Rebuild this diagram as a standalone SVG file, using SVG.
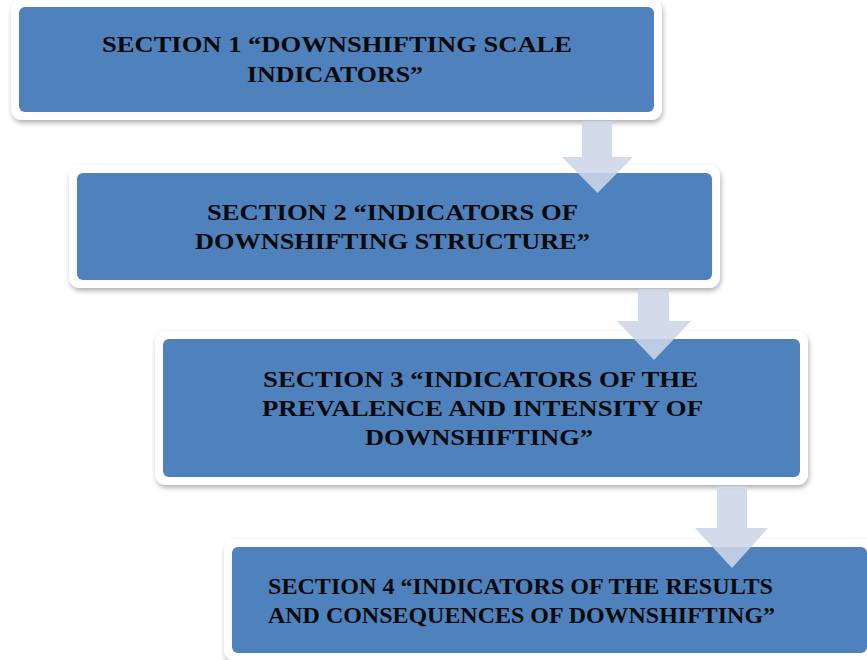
<svg xmlns="http://www.w3.org/2000/svg" width="867" height="660" viewBox="0 0 867 660">
  <defs>
    <filter id="shadow" x="-5%" y="-20%" width="110%" height="140%">
      <feDropShadow dx="1" dy="3" stdDeviation="2.5" flood-color="#000" flood-opacity="0.3"/>
    </filter>
  </defs>
  <style>
    .frame { fill: #ffffff; filter: url(#shadow); }
    .body { fill: #4f81bd; }
    .label { font-family: "Liberation Serif", "Times New Roman", serif; font-weight: bold; font-size: 24px; fill: #0a0a0a; text-anchor: middle; }
    .arrow { fill: #cdd6e8; fill-opacity: 0.88; }
  </style>
  <rect width="867" height="660" fill="#ffffff"/>

  <g id="section1">
    <rect class="frame" x="11" y="-1" width="651" height="121" rx="11"/>
    <rect class="body" x="19" y="7" width="635" height="105" rx="6"/>
    <text class="label" x="337" y="52" textLength="470" lengthAdjust="spacingAndGlyphs">SECTION 1 “DOWNSHIFTING SCALE</text>
    <text class="label" x="335" y="82" textLength="176" lengthAdjust="spacingAndGlyphs">INDICATORS”</text>
  </g>

  <g id="section2">
    <rect class="frame" x="69" y="165" width="651" height="123" rx="11"/>
    <rect class="body" x="77" y="173" width="635" height="107" rx="6"/>
    <text class="label" x="392.5" y="220" textLength="371" lengthAdjust="spacingAndGlyphs">SECTION 2 “INDICATORS OF</text>
    <text class="label" x="392.5" y="249" textLength="395" lengthAdjust="spacingAndGlyphs">DOWNSHIFTING STRUCTURE”</text>
  </g>

  <g id="section3">
    <rect class="frame" x="155" y="331" width="653" height="154" rx="11"/>
    <rect class="body" x="163" y="339" width="637" height="138" rx="6"/>
    <text class="label" x="480.5" y="387" textLength="435" lengthAdjust="spacingAndGlyphs">SECTION 3 “INDICATORS OF THE</text>
    <text class="label" x="482.5" y="416" textLength="441" lengthAdjust="spacingAndGlyphs">PREVALENCE AND INTENSITY OF</text>
    <text class="label" x="479" y="445" textLength="228" lengthAdjust="spacingAndGlyphs">DOWNSHIFTING”</text>
  </g>

  <g id="section4">
    <rect class="frame" x="224" y="539" width="651" height="122" rx="11"/>
    <rect class="body" x="232" y="547" width="635" height="106" rx="6"/>
    <text class="label" x="520.5" y="594" textLength="505" lengthAdjust="spacingAndGlyphs">SECTION 4 “INDICATORS OF THE RESULTS</text>
    <text class="label" x="521.5" y="623" textLength="507" lengthAdjust="spacingAndGlyphs">AND CONSEQUENCES OF DOWNSHIFTING”</text>
  </g>

  <g id="connectors">
    <polygon class="arrow" points="582,121 612,121 612,157 633,157 597.5,193 562,157 582,157"/>
    <polygon class="arrow" points="638,289 669,289 669,321 691,321 654,360 617,321 638,321"/>
    <polygon class="arrow" points="717,486 747,486 747,528 768,528 732,568 695,528 717,528"/>
  </g>
</svg>
